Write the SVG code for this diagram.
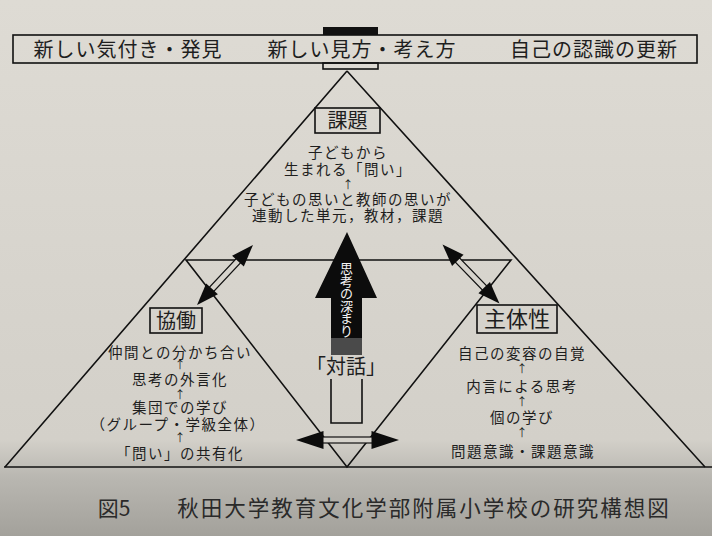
<svg xmlns="http://www.w3.org/2000/svg" width="712" height="536" viewBox="0 0 712 536">
<defs>
<linearGradient id="bg" x1="0" y1="0" x2="0" y2="1">
<stop offset="0" stop-color="#dedbd4"/>
<stop offset="0.82" stop-color="#d3d0c9"/>
<stop offset="0.89" stop-color="#b9b7b1"/>
<stop offset="1" stop-color="#a3a19b"/>
</linearGradient>
<style>
text{font-family:"Noto Sans CJK JP","Noto Sans CJK SC",sans-serif;fill:#1e1e1e;text-anchor:middle}
.ban{font-size:20px;letter-spacing:1px}
.lbl{font-size:20px}
.t{font-size:14.5px;letter-spacing:1.5px}
.up{font-size:11px}
.ln{stroke:#111;stroke-width:1.6;fill:none}
.box{stroke:#111;stroke-width:1.6;fill:none}
.head{fill:#0c0c0c}
.shaft{fill:#d6d3cc;stroke:#111;stroke-width:1.2}
</style>
</defs>
<rect width="712" height="536" fill="url(#bg)"/>

<g id="connectors">
<path class="ln" d="M347,71 L5,467 M347,71 L705,467"/>
<line class="ln" x1="4" y1="467" x2="712" y2="467"/>
<path class="ln" d="M186,260 L511,260 L347,467 Z"/>
<g transform="translate(225,275) rotate(133)">
<rect class="shaft" x="-20" y="-3" width="40" height="6"/>
<polygon class="head" points="-41,0 -19,-8 -19,8"/>
<polygon class="head" points="41,0 19,-8 19,8"/>
</g>
<g transform="translate(471,274) rotate(46)">
<rect class="shaft" x="-20" y="-3" width="40" height="6"/>
<polygon class="head" points="-41,0 -19,-8 -19,8"/>
<polygon class="head" points="41,0 19,-8 19,8"/>
</g>
<g transform="translate(347.5,440)">
<rect class="shaft" x="-26" y="-3" width="52" height="6"/>
<polygon class="head" points="-51.5,0 -24,-9 -24,9"/>
<polygon class="head" points="51.5,0 24,-9 24,9"/>
</g>
</g>

<g id="banner">
<rect x="323" y="27" width="55" height="8" fill="#111"/>
<rect class="box" x="13" y="35" width="684" height="28" stroke-width="2"/>
<rect class="box" x="323" y="63" width="55" height="6" stroke-width="1.4"/>
<text class="ban" x="128" y="57">新しい気付き・発見</text>
<text class="ban" x="362" y="57">新しい見方・考え方</text>
<text class="ban" x="594" y="57">自己の認識の更新</text>
</g>

<g id="node-kadai">
<rect class="box" x="315" y="108" width="65" height="25"/>
<text class="lbl" x="347.5" y="128">課題</text>
<text class="t" x="348" y="158">子どもから</text>
<text class="t" x="348" y="175">生まれる「問い」</text>
<text class="up" x="348" y="189">↑</text>
<text class="t" x="348" y="205">子どもの思いと教師の思いが</text>
<text class="t" x="348" y="221">連動した単元，教材，課題</text>
</g>

<g id="node-kyodo">
<rect class="box" x="150" y="308" width="52" height="25"/>
<text class="lbl" x="176" y="328">協働</text>
<text class="t" x="180" y="358">仲間との分かち合い</text>
<text class="up" x="180" y="369">↑</text>
<text class="t" x="180" y="385">思考の外言化</text>
<text class="up" x="180" y="399">↑</text>
<text class="t" x="180" y="413">集団での学び</text>
<text class="t" x="178" y="430">（グループ・学級全体）</text>
<text class="up" x="180" y="442">↑</text>
<text class="t" x="180" y="459">「問い」の共有化</text>
</g>

<g id="node-shutaisei">
<rect class="box" x="477" y="305" width="80" height="28"/>
<text class="lbl" x="517" y="327" style="font-size:22px">主体性</text>
<text class="t" x="522" y="359">自己の変容の自覚</text>
<text class="up" x="522" y="373">↑</text>
<text class="t" x="522" y="392">内言による思考</text>
<text class="up" x="522" y="406">↑</text>
<text class="t" x="522" y="423">個の学び</text>
<text class="up" x="522" y="437">↑</text>
<text class="t" x="523" y="457">問題意識・課題意識</text>
</g>

<g id="node-center-arrow">
<polygon points="347,232 377,298 362,298 362,355 331,355 331,298 315,298" fill="#0c0c0c"/>
<rect x="331" y="338" width="31" height="17" fill="#4a4a4a"/>
<path class="ln" d="M331,379 V423 H362 V379" stroke-width="1.4"/>
<text x="346.5" y="273" style="font-size:13px;fill:#f4f4f4">思<tspan x="346.5" dy="12.6">考</tspan><tspan x="346.5" dy="12.6">の</tspan><tspan x="346.5" dy="12.6">深</tspan><tspan x="346.5" dy="12.6">ま</tspan><tspan x="346.5" dy="12.6">り</tspan></text>
<text x="346" y="374" style="font-size:20px">「対話」</text>
</g>

<g id="caption">
<text x="114" y="516" style="font-size:21px;fill:#2a2a2a">図5</text>
<text x="424" y="516" style="font-size:21.5px;letter-spacing:2px;fill:#2a2a2a">秋田大学教育文化学部附属小学校の研究構想図</text>
</g>
</svg>
